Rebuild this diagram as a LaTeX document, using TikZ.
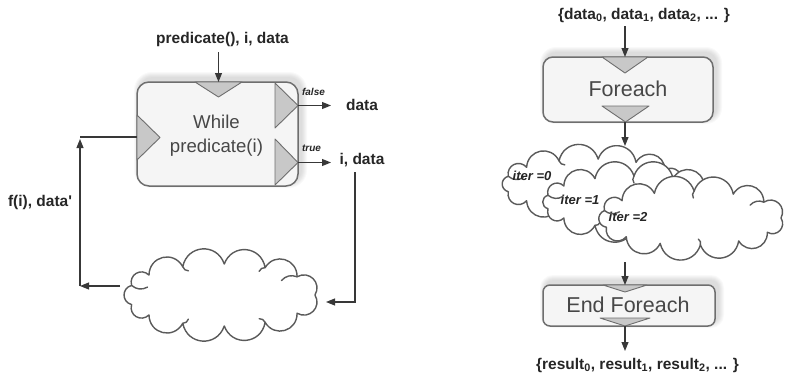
\documentclass[tikz,border=0pt]{standalone}
\usepackage{fontspec}
\setmainfont{Liberation Sans}
\usetikzlibrary{arrows.meta,calc}

\definecolor{edge}{HTML}{6E6E6E}
\definecolor{boxfill}{HTML}{F5F5F5}
\definecolor{tri}{HTML}{C8C8C8}
\definecolor{ink}{HTML}{262626}
\definecolor{wirec}{HTML}{383838}
\definecolor{cloudline}{HTML}{5A5A5A}

\tikzset{
  wire/.style={draw=wirec, line width=1.1pt},
  arr/.style={wire, -{Triangle[length=9pt,width=7pt]}},
  blk/.style={draw=edge, fill=boxfill, line width=1.5pt},
  port/.style={draw=edge, fill=tri, line width=0.9pt, line join=round},
  lbl/.style={font=\fontsize{15.5}{18}\selectfont\bfseries, text=ink, inner sep=0pt},
  tag/.style={font=\fontsize{10}{12}\selectfont\bfseries\itshape, text=ink, inner sep=0pt},
  itr/.style={font=\fontsize{13}{15}\selectfont\bfseries\itshape, text=ink, inner sep=0pt},
  title/.style={font=\fontsize{18.6}{24}\selectfont, text=ink!85, align=center, inner sep=0pt},
  bigtitle/.style={font=\fontsize{21.5}{24}\selectfont, text=ink!85, inner sep=0pt},
  puffline/.style={draw=cloudline, fill=white, line width=1.4pt, line join=round},
  hookline/.style={draw=cloudline, line width=1.4pt, line cap=round},
}

% soft shadow behind a rounded box: #1 centre, #2 width, #3 height, #4 radius
\newcommand{\softshadow}[4]{%
  \foreach \k in {1,...,6}{%
    \fill[black, opacity=0.022, rounded corners=#4+\k pt]
      ($(#1)+(3,-4)+(-#2/2-\k,-#3/2-\k)$) rectangle ($(#1)+(3,-4)+(#2/2+\k,#3/2+\k)$);
  }%
}
% cloud outline: #1 centre, #2/#3 half axes of the puff ellipse, #4 puff angles ending in 360
\newcommand{\cloudat}[4]{%
  \path[puffline, shift={(#1)}] (0:#2 and #3)
    foreach \t in {#4} { to[bend left=75, looseness=1.4] (\t:#2 and #3) } -- cycle;
}
% small inward curl at a puff junction: #1 centre, #2/#3 half axes, #4 angle, #5 length
\newcommand{\curl}[5]{%
  \draw[hookline, shift={(#1)}] (#4:#2 and #3) to[bend right=35] ($(#4:#2 and #3)!#5 pt!(0,0)$);
}

\begin{document}
\begin{tikzpicture}[x=1pt,y=-1pt]
\useasboundingbox (0,0) rectangle (788,375);

% ---------------- while loop ----------------
\coordinate (wc) at (217.5,134);
\softshadow{wc}{161}{104}{12}
\node[blk, rounded corners=12pt, minimum width=161pt, minimum height=104pt, inner sep=0pt] (while) at (wc) {};
\path[port] (195,82) -- (242,82) -- (218.5,97) -- cycle;
\path[port] (137,115) -- (137,160) -- (160,137.5) -- cycle;
\path[port] (275,83) -- (275,128) -- (298,105.5) -- cycle;
\path[port] (275,139) -- (275,185) -- (298,162.5) -- cycle;
\node[title] (wtxt) at (216.5,136) {While\\predicate(i)};

\node[lbl] (win) at (222.5,39) {predicate(), i, data};
\coordinate (wtop) at (218.5,82);
\draw[arr] (win.south -| wtop) ++(0,6) -- (wtop);

\coordinate (fport) at (298,105.5);
\coordinate (tport) at (298,162.5);
\coordinate (fend) at (331,105.5);
\coordinate (tend) at (331,162.5);
\node[lbl] (fout) at (362,105) {data};
\node[lbl] (tout) at (362,160) {i, data};
\draw[arr] (fport) -- (fend);
\draw[arr] (tport) -- (tend);
\node[tag] (ffalse) at (313.5,92) {false};
\node[tag] (ftrue) at (311.5,148) {true};

% loop body and feedback
\coordinate (body) at (221,295);
\cloudat{body}{94}{31}{36,62,88,114,140,162,198,220,246,272,298,324,360}
\curl{body}{94}{31}{198}{16}
\curl{body}{94}{31}{324}{16}
\curl{body}{94}{31}{246}{7}
\curl{body}{94}{31}{298}{7}
\curl{body}{94}{31}{114}{7}
\curl{body}{94}{31}{62}{7}
\coordinate (down) at (355,172);
\coordinate (bodyin) at (326,302);
\draw[arr] (down) |- (bodyin);
\coordinate (bodyout) at (120,286);
\coordinate (corner) at (80,286);
\coordinate (lport) at (137,137);
\draw[arr] (bodyout) -- (corner);
\draw[arr] (corner) -- (80,139);
\draw[wire] (80,137) -- (lport);
\node[lbl] (fdata) at (40,202) {f(i), data\textquotesingle};

% ---------------- foreach ----------------
\node[lbl] (din) at (644,15) {\{data\textsubscript{0}, data\textsubscript{1}, data\textsubscript{2}, ... \}};
\coordinate (fec) at (628,89.5);
\softshadow{fec}{170}{65}{10}
\node[blk, rounded corners=10pt, minimum width=170pt, minimum height=65pt, inner sep=0pt] (fe) at (fec) {};
\path[port] (602,57) -- (648,57) -- (625,73) -- cycle;
\path[port] (602,106) -- (649,106) -- (625.5,122) -- cycle;
\node[bigtitle] (fetxt) at (628,89) {Foreach};
\coordinate (fetop) at (625,57);
\draw[arr] (din.south -| fetop) ++(0,4) -- (fetop);

\coordinate (febot) at (625,122);
\coordinate (cltop) at (625,146);
\draw[arr] (febot) -- (cltop);

\coordinate (c0) at (592,184);
\coordinate (c1) at (634,202);
\coordinate (c2) at (691,218);
\cloudat{c0}{88}{25}{34,60,86,112,138,162,198,222,248,274,300,326,360}
\curl{c0}{88}{25}{198}{15}
\curl{c0}{88}{25}{248}{7}
\curl{c0}{88}{25}{86}{6}
\cloudat{c1}{89}{26}{38,64,90,116,142,165,195,218,244,270,296,322,360}
\curl{c1}{89}{26}{195}{15}
\curl{c1}{89}{26}{270}{7}
\curl{c1}{89}{26}{116}{6}
\cloudat{c2}{90}{27}{32,58,84,110,136,160,196,220,246,272,298,324,360}
\curl{c2}{90}{27}{196}{15}
\curl{c2}{90}{27}{324}{14}
\curl{c2}{90}{27}{272}{7}
\curl{c2}{90}{27}{84}{6}
\node[itr] (l0) at (532,176) {iter =0};
\node[itr] (l1) at (580,200) {iter =1};
\node[itr] (l2) at (628,217) {iter =2};

\coordinate (efc) at (629,305.5);
\softshadow{efc}{172}{41}{7}
\node[blk, rounded corners=7pt, minimum width=172pt, minimum height=41pt, inner sep=0pt] (ef) at (efc) {};
\path[port] (603,285) -- (647,285) -- (625,292) -- cycle;
\path[port] (600,318) -- (650,318) -- (625,326) -- cycle;
\node[bigtitle] (eftxt) at (628,305) {End Foreach};
\coordinate (cldown) at (625,262);
\coordinate (eftop) at (625,285);
\draw[arr] (cldown) -- (eftop);
\coordinate (efbot) at (625,326);
\coordinate (doutn) at (625,351);
\node[lbl] (dout) at (637.5,365) {\{result\textsubscript{0}, result\textsubscript{1}, result\textsubscript{2}, ... \}};
\draw[arr] (efbot) -- (doutn);
\end{tikzpicture}
\end{document}
